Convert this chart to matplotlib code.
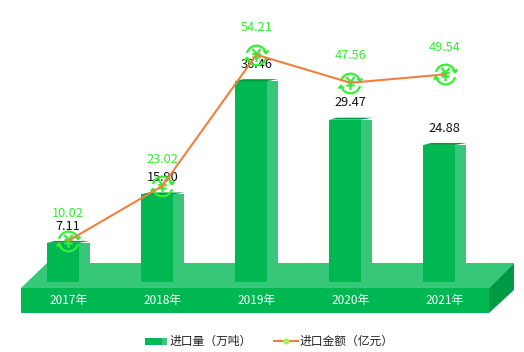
import numpy as np
import matplotlib
matplotlib.use('Agg')
import matplotlib.pyplot as plt
from matplotlib.path import Path
from matplotlib.patches import Polygon, Rectangle

plt.rcParams['font.family'] = ['Noto Sans CJK SC', 'DejaVu Sans']

# Data
years = ['2017年', '2018年', '2019年', '2020年', '2021年']
volume = [7.11, 15.90, 36.46, 29.47, 24.88]   # 进口量（万吨）
amount = [10.02, 23.02, 54.21, 47.56, 49.54]  # 进口金额（亿元）

GREEN = '#00B851'
LIGHT = '#36C878'
DARK = '#009A45'
ORANGE = '#F0803C'
LIME = '#33F033'

W, H = 524, 352
fig = plt.figure(figsize=(W / 100, H / 100), dpi=100)


# yen sign inside two circular arrows, used as line marker
def yen_marker():
    a1 = Path.arc(15, 165)
    a2 = Path.arc(195, 345)
    verts = list(a1.vertices) + list(a2.vertices)
    codes = list(a1.codes) + list(a2.codes)
    segs = [[(-0.42, 0.68), (0, 0.16), (0.42, 0.68)],
            [(0, 0.16), (0, -0.68)],
            [(-0.42, 0.14), (0.42, 0.14)],
            [(-0.42, -0.2), (0.42, -0.2)],
            [(0.72, 0.5), (0.97, 0.22), (1.2, 0.52)],
            [(-0.72, -0.5), (-0.97, -0.22), (-1.2, -0.52)]]
    for s in segs:
        verts += s
        codes += [Path.MOVETO] + [Path.LINETO] * (len(s) - 1)
    return Path(np.array(verts), codes)


# background platform, figure pixel coordinates
bg = fig.add_axes([0, 0, 1, 1], zorder=0)
bg.set_xlim(0, W)
bg.set_ylim(H, 0)
bg.axis('off')
bg.add_patch(Polygon([(21, 288), (47, 263), (514, 263), (489, 288)], color=LIGHT, lw=0))
bg.add_patch(Polygon([(489, 288), (514, 263), (514, 290), (489, 313)], color=DARK, lw=0))
bg.add_patch(Rectangle((21, 288), 468, 25, color=GREEN, lw=0))

# bars
x0, dx = 63, 94.1
y0, sy = 282, 5.51
ax = fig.add_axes([0, 0, 1, 1], zorder=1)
ax.set_xlim(-x0 / dx, (W - x0) / dx)
ax.set_ylim(-(H - y0) / sy, y0 / sy)
ax.axis('off')
x = np.arange(len(years))
bw = 0.34
side = 0.117
ax.bar(x + bw / 2 + side / 2, volume, side, color=LIGHT, zorder=2)
ax.bar(x, volume, bw, color=GREEN, zorder=3)
for xi, v in zip(x, volume):
    ax.fill([xi - bw / 2, xi - bw / 2 + side * 0.7, xi + bw / 2 + side, xi + bw / 2],
            [v, v + 0.35, v + 0.35, v], color=DARK, lw=0, zorder=3)
    ax.annotate(f'{v:.2f}', (xi + 0.055, v), xytext=(0, 12), textcoords='offset points',
                ha='center', va='center', fontsize=9.2, color='#111111', zorder=6)
for xi, name in zip(x, years):
    ax.annotate(name, (xi + 0.055, 0), xytext=(0, -13.5), textcoords='offset points',
                ha='center', va='center', fontsize=8.5, color='white', zorder=6)

# line on its own scale
sy2 = 4.21
y02 = 283
ax2 = fig.add_axes([0, 0, 1, 1], zorder=2, sharex=ax)
ax2.set_ylim(-(H - y02) / sy2, y02 / sy2)
ax2.axis('off')
ax2.patch.set_alpha(0)
ax2.plot(x + 0.055, amount, ls='none', marker=yen_marker(), ms=17, mfc='none',
         mec=LIME, mew=1.6, zorder=4)
ax2.plot(x + 0.055, amount, color=ORANGE, lw=1.5, zorder=5)
for xi, v in zip(x, amount):
    ax2.annotate(f'{v:.2f}', (xi + 0.055, v), xytext=(0, 19.5), textcoords='offset points',
                 ha='center', va='center', fontsize=9.2, color=LIME, zorder=6)

# legend, drawn by hand to keep the two tone swatch
bg.add_patch(Rectangle((145, 338), 17, 7, color=GREEN, lw=0))
bg.add_patch(Rectangle((162, 338), 5, 7, color=LIGHT, lw=0))
bg.text(170, 341, '进口量（万吨）', fontsize=8.5, color='#222222', va='center', ha='left')
bg.plot([274, 298], [341, 341], color=ORANGE, lw=1.5)
bg.plot([286], [341], 'o', ms=4.5, color='#A8F05A', mec='none')
bg.text(300, 341, '进口金额（亿元）', fontsize=8.5, color='#222222', va='center', ha='left')

fig.savefig('out.png', dpi=100)
